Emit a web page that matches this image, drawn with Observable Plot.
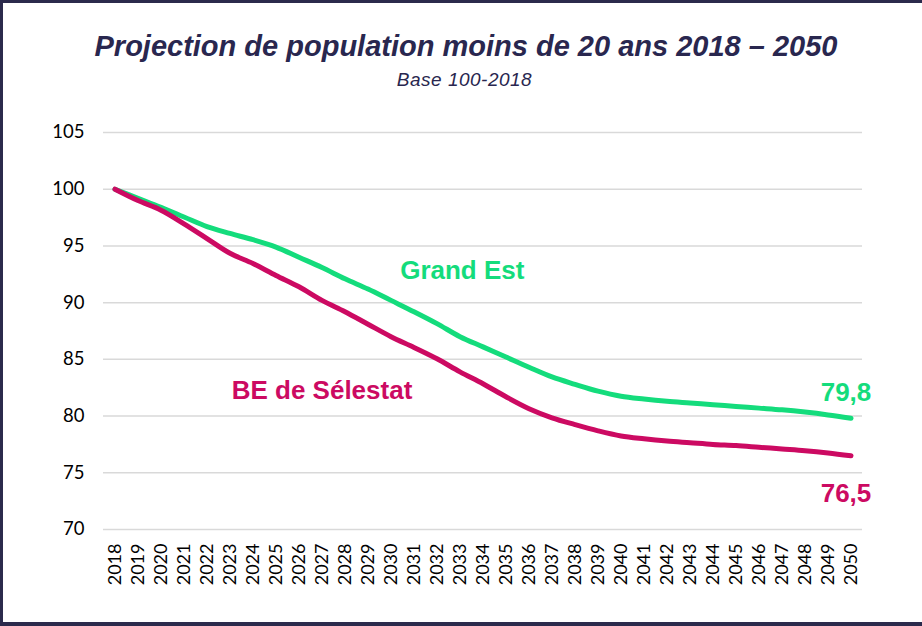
<!DOCTYPE html>
<html>
<head>
<meta charset="utf-8">
<script src="https://cdn.jsdelivr.net/npm/d3@7"></script>
<script src="https://cdn.jsdelivr.net/npm/@observablehq/plot@0.6"></script>
<style>
  html, body { margin: 0; padding: 0; background: #fff; }
  #wrap { position: relative; width: 922px; height: 626px; overflow: hidden; background: #fff; }
  #frame { position: absolute; left: 0; top: 0; width: 922px; height: 626px; box-sizing: border-box;
           border-left: 3px solid #2b2a4c; border-top: 3px solid #2b2a4c; border-bottom: 4px solid #2b2a4c; pointer-events: none; }
  #title { position: absolute; left: 0; top: 32px; width: 922px; padding-left: 10px; box-sizing: border-box; text-align: center;
           font-family: "Liberation Sans", Arial, sans-serif; font-weight: bold; font-style: italic; font-size: 29px; line-height: 29px;
           letter-spacing: 0px; color: #29274f; white-space: nowrap; }
  #subtitle { position: absolute; left: 0; top: 70px; width: 922px; padding-left: 7px; box-sizing: border-box; text-align: center;
           font-family: "Liberation Sans", Arial, sans-serif; font-style: italic; font-size: 19px; line-height: 19px;
           letter-spacing: 0.5px; color: #29274f; white-space: nowrap; }
  #chart { position: absolute; left: 0; top: 100px; }
</style>
</head>
<body>
<div id="wrap">
  <div id="title">Projection de population moins de 20 ans 2018 – 2050</div>
  <div id="subtitle">Base 100-2018</div>
  <div id="chart"></div>
  <div id="frame"></div>
</div>
<script>
const years = [2018,2019,2020,2021,2022,2023,2024,2025,2026,2027,2028,2029,2030,2031,2032,2033,2034,2035,2036,2037,2038,2039,2040,2041,2042,2043,2044,2045,2046,2047,2048,2049,2050];
const grandEst = [100,99.2,98.4,97.55,96.7,96.1,95.55,94.9,94.0,93.1,92.1,91.2,90.2,89.2,88.15,87.0,86.1,85.2,84.3,83.45,82.8,82.2,81.75,81.5,81.3,81.15,81.0,80.85,80.7,80.55,80.35,80.1,79.8];
const selestat = [100,99.0,98.15,96.95,95.65,94.35,93.45,92.4,91.4,90.2,89.2,88.1,87.0,86.05,85.05,83.9,82.85,81.7,80.65,79.85,79.25,78.7,78.25,78.0,77.8,77.65,77.5,77.4,77.25,77.1,76.95,76.75,76.5];
const yTicks = [70,75,80,85,90,95,100,105];
const seriesNames = ["Grand Est", "BE de Sélestat"];
const seriesColors = ["#14dc7c", "#cc0a62"];
// annotation anchors (year, value) for series names
const nameYears = [2033.1, 2027.0];
const nameValues = [92.8, 82.2];

const fmt = v => v.toFixed(1).replace(".", ",");

const rows = [];
years.forEach((yr, i) => {
  rows.push({year: yr, value: grandEst[i], series: seriesNames[0]});
  rows.push({year: yr, value: selestat[i], series: seriesNames[1]});
});
const nameLabels = seriesNames.map((s, i) => ({series: s, year: nameYears[i], value: nameValues[i]}));
const lastIdx = years.length - 1;
const endLabels = [
  {series: seriesNames[0], year: years[lastIdx], value: grandEst[lastIdx]},
  {series: seriesNames[1], year: years[lastIdx], value: selestat[lastIdx]}
];

const colorScale = {domain: seriesNames, range: seriesColors};
const labelFont = {fontFamily: "Liberation Sans, Arial, sans-serif", fontWeight: "bold", fontSize: 26};

const chart = Plot.plot({
  width: 922,
  height: 520,
  marginLeft: 103,
  marginRight: 60,
  marginTop: 32,
  marginBottom: 91,
  style: {fontFamily: "Lato, sans-serif", fontSize: "18px", color: "#000", background: "transparent"},
  x: {domain: [2017.5, 2050.5], label: null},
  y: {domain: [70, 105], label: null},
  color: colorScale,
  marks: [
    Plot.ruleY(yTicks, {stroke: "#d9d9d9", strokeWidth: 1.5}),
    Plot.axisY({ticks: yTicks, tickSize: 0, tickPadding: 19, label: null, fontSize: 18.5}),
    Plot.axisX({ticks: years, tickSize: 0, tickPadding: 14, tickRotate: -90, tickFormat: d => String(d), label: null, fontSize: 18}),
    Plot.line(rows, {x: "year", y: "value", z: "series", stroke: "series", strokeWidth: 5, curve: "catmull-rom", strokeLinecap: "round", strokeLinejoin: "round"}),
    Plot.text(nameLabels, {x: "year", y: "value", text: "series", fill: "series", ...labelFont}),
    Plot.text(endLabels.slice(0,1), {x: "year", y: "value", text: d => fmt(d.value), fill: "series", dx: -5, dy: -26, ...labelFont}),
    Plot.text(endLabels.slice(1), {x: "year", y: "value", text: d => fmt(d.value), fill: "series", dx: -5, dy: 38, ...labelFont})
  ]
});
document.getElementById("chart").appendChild(chart);
</script>
</body>
</html>
